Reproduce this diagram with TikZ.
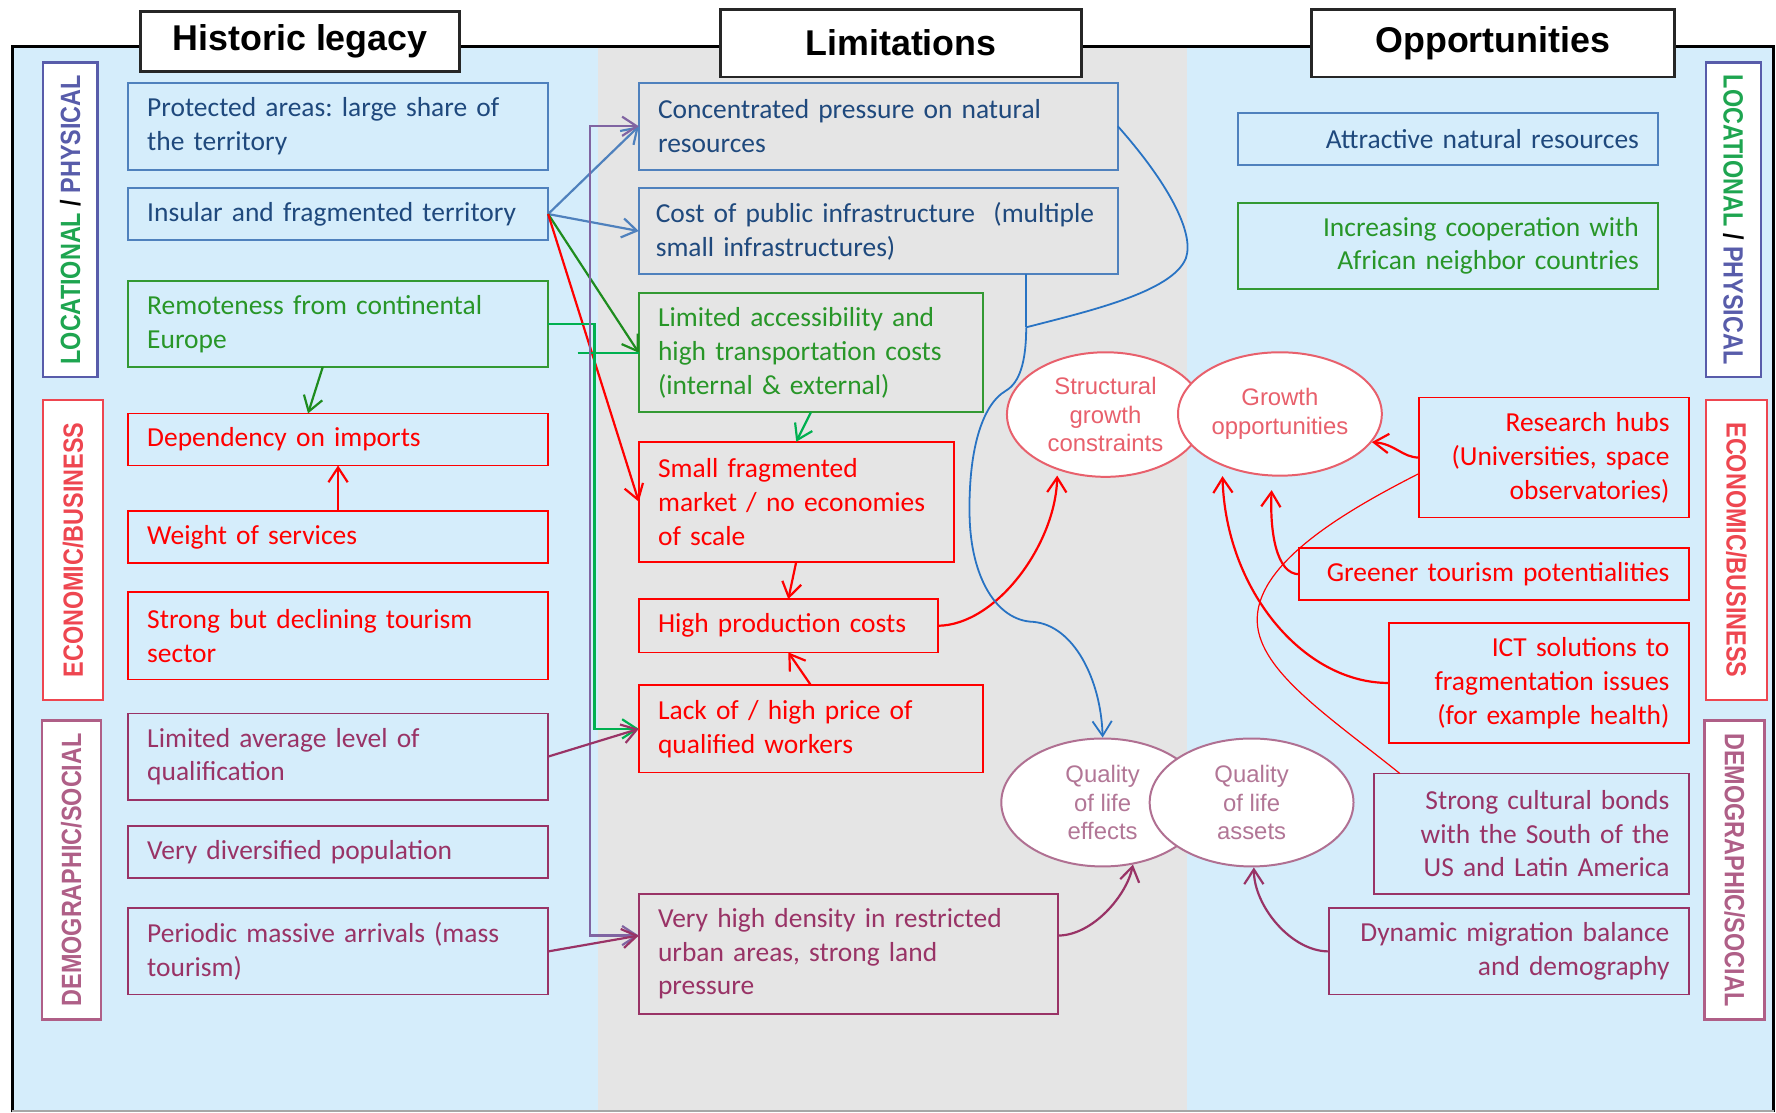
\documentclass[tikz,border=0pt]{standalone}
\usepackage{fontspec}
\usepackage{graphicx}
\setmainfont{Carlito}
\newfontfamily\headfont{Liberation Sans}
\usetikzlibrary{arrows.meta,positioning,shapes.geometric,calc}
\frenchspacing

\definecolor{bgblue}{RGB}{213,237,251}
\definecolor{bggray}{RGB}{229,229,229}
\definecolor{boxblue}{RGB}{79,129,189}
\definecolor{txtblue}{RGB}{31,73,125}
\definecolor{boxgreen}{RGB}{51,153,51}
\definecolor{txtgreen}{RGB}{40,150,40}
\definecolor{boxmauve}{RGB}{153,51,102}
\definecolor{darkgreen}{RGB}{30,140,30}
\definecolor{brightgreen}{RGB}{0,176,80}
\definecolor{arrpurple}{RGB}{128,100,162}
\definecolor{elred}{RGB}{232,96,108}
\definecolor{elmauve}{RGB}{176,112,146}
\definecolor{eltxtmauve}{RGB}{178,118,150}
\definecolor{curveblue}{RGB}{40,115,195}
\definecolor{lblblue}{RGB}{88,92,170}
\definecolor{lblgreen}{RGB}{30,165,80}
\definecolor{lblred}{RGB}{238,70,80}
\definecolor{lblmauve}{RGB}{175,95,135}

\begin{document}
\begin{tikzpicture}[x=0.02cm, y=-0.02cm,
        item/.style={rectangle, line width=0.9pt, inner xsep=0.34cm, inner ysep=0.06cm, outer sep=0pt, anchor=north west, align=left, font=\fontsize{13.8}{17}\selectfont},
        ritem/.style={item, align=right},
        bluebox/.style={draw=boxblue, text=txtblue},
        greenbox/.style={draw=boxgreen, text=txtgreen},
        redbox/.style={draw=red, text=red},
        mauvebox/.style={draw=boxmauve, text=boxmauve},
        head/.style={rectangle, draw=black!85, line width=1.5pt, fill=white, font=\headfont\fontsize{18}{22}\selectfont\bfseries},
        side/.style={rectangle, fill=white, line width=1.2pt, inner sep=0pt, font=\headfont\fontsize{14}{16}\selectfont\bfseries},
        bubble/.style={ellipse, fill=white, line width=1pt, inner sep=0pt, align=center, font=\headfont\fontsize{12}{14.5}\selectfont},
        arrow/.style={-{Straight Barb[length=2.6mm,width=3.4mm]}, line width=1.1pt},
        twoway/.style={{Straight Barb[length=2.6mm,width=3.4mm]}-{Straight Barb[length=2.6mm,width=3.4mm]}, line width=1.1pt}
    ]
        \useasboundingbox (0,0) rectangle (1568,982);

        % Background panels and frame
        \fill[bgblue] (11,41) rectangle (528,982);
        \fill[bggray] (528,41) rectangle (1048,982);
        \fill[bgblue] (1048,41) rectangle (1566,982);
        \draw[line width=1.6pt] (11,982) -- (11,41) -- (1566,41) -- (1566,982);
        \draw[gray!70, line width=0.8pt] (11,981) -- (1566,981);

        % Column titles
        \node[head, minimum width=5.64cm, minimum height=1.06cm] (histt) at (265,36.5) {Historic legacy};
        \node[head, minimum width=6.38cm, minimum height=1.2cm] (limt) at (795.5,38) {Limitations};
        \node[head, minimum width=6.4cm, minimum height=1.2cm] (oppt) at (1318,38) {Opportunities};

        % Side labels
        \node[side, draw=lblblue, rotate=90, minimum width=5.56cm, minimum height=0.96cm] (locl) at (62,194)
            {\scalebox{0.84}[1]{\textcolor{lblgreen}{LOCATIONAL} / \textcolor{lblblue}{PHYSICAL}}};
        \node[side, draw=lblred, text=lblred, rotate=90, minimum width=5.3cm, minimum height=1.06cm] (ecol) at (64.5,485.5)
            {\scalebox{0.84}[1]{ECONOMIC/BUSINESS}};
        \node[side, draw=lblmauve, text=lblmauve, rotate=90, minimum width=5.28cm, minimum height=1.04cm] (deml) at (63,768)
            {\scalebox{0.84}[1]{DEMOGRAPHIC/SOCIAL}};
        \node[side, draw=lblblue, rotate=-90, minimum width=5.56cm, minimum height=0.98cm] (locr) at (1530.5,194)
            {\scalebox{0.84}[1]{\textcolor{lblgreen}{LOCATIONAL} / \textcolor{lblblue}{PHYSICAL}}};
        \node[side, draw=lblred, text=lblred, rotate=-90, minimum width=5.3cm, minimum height=1.08cm] (ecor) at (1533,485.5)
            {\scalebox{0.84}[1]{ECONOMIC/BUSINESS}};
        \node[side, draw=lblmauve, text=lblmauve, rotate=-90, minimum width=5.28cm, minimum height=1.06cm] (demr) at (1531.5,768)
            {\scalebox{0.84}[1]{DEMOGRAPHIC/SOCIAL}};

        % Historic legacy
        \node[item, bluebox, text width=6.74cm, minimum height=1.54cm] (prot) at (113,73) {Protected areas: large share of\\the territory};
        \node[item, bluebox, text width=6.74cm, minimum height=0.92cm] (insul) at (113,166) {Insular and fragmented territory};
        \node[item, greenbox, text width=6.74cm, minimum height=1.52cm] (remote) at (113,248) {Remoteness from continental\\Europe};
        \node[item, redbox, text width=6.74cm, minimum height=0.92cm] (dep) at (113,365) {Dependency on imports};
        \node[item, redbox, text width=6.74cm, minimum height=0.92cm] (weight) at (113,451) {Weight of services};
        \node[item, redbox, text width=6.74cm, minimum height=1.54cm] (tour) at (113,523) {Strong but declining tourism\\sector};
        \node[item, mauvebox, text width=6.74cm, minimum height=1.52cm] (limavg) at (113,630) {Limited average level of\\qualification};
        \node[item, mauvebox, text width=6.74cm, minimum height=0.92cm] (divers) at (113,729) {Very diversified population};
        \node[item, mauvebox, text width=6.74cm, minimum height=1.52cm] (period) at (113,802) {Periodic massive arrivals (mass\\tourism)};

        % Limitations
        \node[item, bluebox, text width=7.78cm, minimum height=1.54cm] (conc) at (564,73) {Concentrated pressure on natural\\resources};
        \node[item, bluebox, inner xsep=0.3cm, text width=7.86cm, minimum height=1.52cm] (cost) at (564,166) {Cost of public infrastructure\ \ (multiple\\small infrastructures)};
        \node[item, greenbox, text width=5.4cm, minimum height=2.1cm] (access) at (564,259) {Limited accessibility and\\high transportation costs\\(internal \& external)};
        \node[item, redbox, text width=4.88cm, minimum height=2.12cm] (small) at (564,390) {Small fragmented\\market / no economies\\of scale};
        \node[item, redbox, text width=4.6cm, minimum height=0.94cm] (high) at (564,529) {High production costs};
        \node[item, redbox, text width=5.4cm, minimum height=1.54cm] (lack) at (564,605) {Lack of / high price of\\qualified workers};
        \node[item, mauvebox, text width=6.72cm, minimum height=2.12cm] (dens) at (564,789) {Very high density in restricted\\urban areas, strong land\\pressure};

        % Opportunities
        \node[ritem, bluebox, text width=6.74cm, minimum height=0.92cm] (attract) at (1093,100) {Attractive natural resources};
        \node[ritem, greenbox, text width=6.74cm, minimum height=1.52cm] (coop) at (1093,179) {Increasing cooperation with\\African neighbor countries};
        \node[ritem, redbox, text width=4.08cm, minimum height=2.12cm] (research) at (1253,351) {Research hubs\\(Universities, space\\observatories)};
        \node[ritem, redbox, text width=6.2cm, minimum height=0.92cm] (greener) at (1147,484) {Greener tourism potentialities};
        \node[ritem, redbox, text width=4.62cm, minimum height=2.12cm] (ict) at (1226,550) {ICT solutions to\\fragmentation issues\\(for example health)};
        \node[ritem, mauvebox, text width=4.88cm, minimum height=2.12cm] (strong) at (1213,683) {Strong cultural bonds\\with the South of the\\US and Latin America};
        \node[ritem, mauvebox, text width=5.68cm, minimum height=1.52cm] (dyn) at (1173,802) {Dynamic migration balance\\and demography};

        % Bubbles
        \node[bubble, draw=elred, text=elred, minimum width=3.48cm, minimum height=2.2cm] (struct) at (976,366) {Structural\\growth\\constraints};
        \node[bubble, draw=elred, text=elred, minimum width=3.6cm, minimum height=2.18cm] (grow) at (1130,365.5) {Growth\\opportunities};
        \node[bubble, draw=elmauve, text=eltxtmauve, minimum width=3.58cm, minimum height=2.26cm] (qeff) at (973.5,708.5) {Quality\\of life\\effects};
        \node[bubble, draw=elmauve, text=eltxtmauve, minimum width=3.6cm, minimum height=2.26cm] (qass) at (1105,708.5) {Quality\\of life\\assets};

        % Links from the historic legacy
        \draw[arrow, boxblue] (insul.east) -- (conc.west);
        \draw[arrow, boxblue] (insul.east) -- (cost.west);
        \draw[arrow, darkgreen] (insul.east) -- (access.west);
        \draw[arrow, red] (insul.east) -- (small.west);
        \draw[arrow, darkgreen] ([xshift=-0.27cm]remote.south) -- ([xshift=-0.53cm]dep.north);
        \draw[arrow, red] (weight.north) -- (dep.south);
        \draw[arrow, brightgreen] (remote.east) -- ++(41,0) |- (lack.west);
        \coordinate (gtick) at (510,311.5);
        \draw[brightgreen, line width=1.1pt] (gtick) -- (gtick -| access.west);
        \draw[twoway, arrpurple] (conc.west) -- ++(-43,0) |- ([yshift=0.32cm]dens.west);
        \draw[arrow, boxmauve] (limavg.east) -- (lack.west);
        \draw[arrow, boxmauve] (period.east) -- ([yshift=0.32cm]dens.west);

        % Links between limitations
        \draw[arrow, brightgreen] (access.south) -- (small.north);
        \draw[arrow, red] (small.south) -- (high.north);
        \draw[arrow, red] (lack.north) -- (high.south);
        \draw[arrow, red, shorten >=0.1cm] (high.east) .. controls (880,552) and (932,480) .. (struct.229);

        % Blue curve to quality of life
        \coordinate (bmerge) at (906,289);
        \draw[curveblue, line width=0.9pt] (conc.east) .. controls (1030,160) and (1055,205) .. (1047,228) .. controls (1035,258) and (960,275) .. (bmerge);
        \draw[curveblue, line width=0.9pt] (cost.south -| bmerge) -- (bmerge);
        \draw[arrow, curveblue, line width=0.9pt] (bmerge) .. controls (906,320) and (900,338) .. (888,345) .. controls (866,358) and (855,400) .. (856,455) .. controls (857,510) and (880,548) .. (912,549) .. controls (948,552) and (972,600) .. (qeff.north);

        % Links to the bubbles
        \draw[arrow, red] (research.west) .. controls (1238,404) and (1232,392) .. (grow.-17);
        \draw[arrow, red, shorten >=0.24cm] (greener.west) .. controls (1127,507) and (1121,470) .. (grow.263);
        \draw[arrow, red, shorten >=0.18cm] (ict.west) .. controls (1150,603) and (1082,520) .. (grow.222);
        \draw[red, line width=0.6pt] ([xshift=0.46cm]strong.north west) .. controls (1170,630) and (1108,590) .. (1110,545) .. controls (1112,495) and (1190,450) .. ([yshift=-0.28cm]research.west);
        \draw[arrow, boxmauve] ([yshift=0.32cm]dens.east) .. controls (965,826) and (995,790) .. (qeff.-64);
        \draw[arrow, boxmauve] (dyn.west) .. controls (1140,840) and (1107,800) .. (qass.-88);
    \end{tikzpicture}
\end{document}
